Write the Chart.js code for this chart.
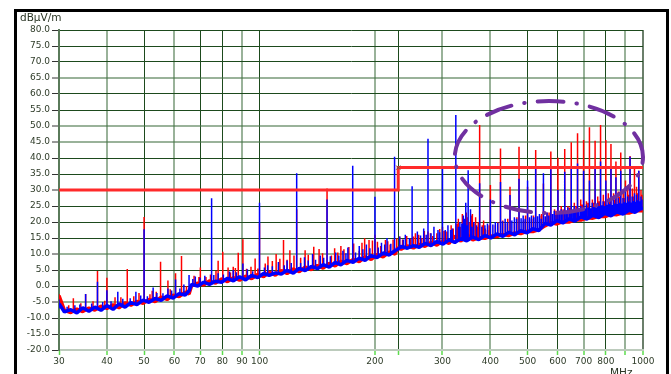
<!DOCTYPE html>
<html>
<head>
<meta charset="utf-8">
<script src="https://cdn.jsdelivr.net/npm/chart.js@4.4.0/dist/chart.umd.min.js"></script>
<style>
  html, body { margin: 0; padding: 0; background: #fff; }
  body { width: 671px; height: 374px; position: relative; overflow: hidden; font-family: "DejaVu Sans", sans-serif; }
  #c { position: absolute; left: 0; top: 0; }
  #frame { position: absolute; left: 14px; top: 9px; width: 649px; height: 420px; border: 3px solid #000; border-bottom: none; pointer-events: none; }
  .unit { position: absolute; color: #2b3626; font-size: 10.5px; }
</style>
</head>
<body>
<canvas id="c" width="671" height="374"></canvas>
<div id="frame"></div>
<div class="unit" style="left:20px; top:11px">dBµV/m</div>
<div class="unit" style="left:610px; top:366px">MHz</div>
<script>
// axis ticks
var freqTicks = [30, 40, 50, 60, 70, 80, 90, 100, 200, 230, 300, 400, 500, 600, 700, 800, 900, 1000];
var freqLabels = ['30', '40', '50', '60', '70', '80', '90', '100', '200', '', '300', '400', '500', '600', '700', '800', '', '1000'];

// limit line (MHz, dBuV/m)
var limitFreq = [30, 230, 230, 1000];
var limitLevel = [30, 30, 37, 37];

// noise floor
var floorFreq = [30, 31, 32.2, 33.4, 34.6, 35.9, 37.2, 38.6, 40, 41.5, 43, 44.6, 46.2, 47.9, 49.7, 51.5, 53.4, 55.4, 57.4,
  59.5, 61.7, 64, 65.5, 66.5, 69, 71.5, 74, 76.8, 79.6, 82.5, 85.5, 88.7, 92, 95.4, 98.9, 102.5, 106, 110, 114,
  118, 122.5, 127, 131.5, 136.5, 141.5, 146.5, 152, 157.5, 163, 169, 175.5, 182, 188.5, 195.5, 202.5, 210, 218, 226, 229,
  234, 243, 252, 261, 270, 280, 290, 301, 312, 323, 335, 347, 360, 373, 387, 401, 416, 431, 447, 463,
  480, 498, 516, 535, 555, 575, 596, 618, 641, 664, 689, 714, 740, 767, 796, 825, 855, 887, 919, 953, 988, 1000];

var blueFloor = [-5.5, -8.1, -7.4, -8.4, -6.8, -7.9, -6.6, -7.6, -6.1, -7.3, -5.6, -6.6, -5.2, -5.8, -4.4, -5.1, -3.9, -4.5, -3.1,
  -3.8, -2.4, -2.8, -1.5, 0.5, 0.0, 1.2, 0.5, 1.5, 1.2, 2.4, 1.6, 2.9, 1.9, 3.3, 2.6, 3.9, 3.3, 4.1, 3.7,
  4.9, 4.0, 5.5, 4.8, 6.1, 5.4, 6.7, 5.9, 7.4, 6.6, 8.0, 7.4, 8.7, 8.0, 9.5, 8.9, 10.3, 9.7, 11.1, 11.4,
  12.4, 11.8, 12.6, 12.1, 13.3, 12.6, 13.9, 13.1, 14.4, 13.6, 14.8, 14.1, 15.3, 14.5, 15.8, 15.0, 16.3, 15.5, 16.8, 16.0,
  17.3, 16.6, 17.9, 17.3, 19.6, 19.0, 20.4, 19.7, 21.0, 20.3, 21.6, 20.9, 22.1, 21.4, 22.7, 21.9, 23.2, 22.5, 23.7, 23.0, 24.3, 24.0];

var redFloor = [-3.0, -7.6, -8.3, -7.2, -8.0, -6.9, -7.5, -6.3, -7.0, -5.9, -6.8, -5.3, -6.0, -4.8, -5.4, -4.2, -4.9, -3.5, -4.2,
  -2.9, -3.3, -1.9, -2.5, 0.1, 0.9, 0.3, 1.6, 0.9, 2.2, 1.4, 2.6, 1.8, 3.1, 2.3, 3.6, 2.9, 4.3, 3.4, 4.8,
  3.9, 5.3, 4.5, 5.9, 5.1, 6.4, 5.6, 7.1, 6.3, 7.7, 7.0, 8.3, 7.6, 9.1, 8.3, 9.8, 9.1, 10.6, 10.0, 11.9,
  11.5, 12.5, 11.9, 13.0, 12.4, 13.6, 12.8, 14.1, 13.3, 15.6, 14.0, 16.2, 14.4, 15.1, 14.9, 15.6, 15.4, 16.1, 15.8, 16.6,
  16.4, 17.1, 17.0, 17.6, 18.8, 19.8, 19.4, 20.1, 20.0, 20.7, 20.6, 21.3, 21.2, 21.8, 21.7, 22.4, 22.3, 22.9, 22.8, 23.5, 23.6, 23.4];

// emissions: [MHz, floor, peak]
var redSpikes = [
  [30, -6, -2.5], [32.7, -7.8, -3.8], [35.2, -7.4, -2.5], [37.8, -7, 4.7], [40, -6.6, 2.6], [42, -6.4, -3.5],
  [45.2, -5.8, 5.3], [48.5, -5, -2.2], [50, -4.8, 21.6], [52.5, -4.5, -1.5], [55.2, -4.2, 7.6], [57.7, -3.7, 1.7],
  [60.4, -3.2, 4.0], [62.6, -2.6, 9.4], [67.5, 0, 3.2], [70.1, 0.6, 5.8], [72.5, 0.9, 2.8], [78, 1.4, 7.9],
  [80.2, 1.6, 10.7], [82.8, 1.9, 5.8], [85.4, 2, 6], [88, 2.3, 10.4], [90.5, 2.4, 14.6], [95, 2.7, 6],
  [97.4, 2.9, 8.6], [100, 3.1, 19.6], [105.2, 3.6, 9.2], [110.5, 3.8, 10], [115.5, 4.2, 14.4], [120, 4.4, 11.2],
  [125, 4.7, 24], [131.5, 5.1, 11.2], [138.5, 5.5, 12.3], [143, 5.8, 11.6], [150, 6.2, 30.5], [154, 6.4, 9.5],
  [160, 6.8, 10.5], [166, 7.2, 11.5], [176, 7.8, 13.3], [182, 8.1, 11], [188, 8.4, 14.9], [193, 8.8, 14.4],
  [200, 9.3, 16], [207, 9.6, 12.5], [213, 9.9, 14.4], [219, 10.2, 13], [228, 11, 14.9], [236, 11.9, 14.5],
  [242, 12.1, 15.6], [248, 12.2, 14.8], [255, 12.3, 16.5], [260, 12.5, 16], [265, 12.6, 15], [275, 12.9, 17],
  [283, 13.1, 15.6], [290, 13.3, 16.5], [300, 13.5, 18.5], [308, 13.7, 17], [316, 13.9, 19],
  [330, 14.2, 21], [334, 14.3, 18.5], [338, 14.4, 22.5], [342, 14.4, 19], [346, 14.5, 23], [352, 14.7, 20],
  [356, 14.8, 22], [362, 14.9, 19.5], [366, 15, 21.5], [370, 15, 18.5], [375, 15.1, 50.3], [381, 15.2, 19],
  [388, 15.3, 18], [393, 15.4, 17.5], [400, 15.5, 31.6], [412, 15.7, 19], [425, 16, 43], [438, 16.2, 19.5],
  [450, 16.3, 31], [462, 16.5, 20], [475, 16.8, 43.5], [488, 17, 20.5], [500, 17.2, 31], [512, 17.3, 21],
  [525, 17.6, 42.5], [538, 17.9, 22], [550, 18.9, 32], [562, 19.2, 23], [575, 19.5, 42], [588, 19.8, 24],
  [600, 20, 40.1], [612, 20.1, 25], [625, 20.3, 42.8], [637, 20.5, 25], [650, 20.6, 44.9], [662, 20.8, 26],
  [675, 21, 47.7], [688, 21.1, 27], [700, 21.3, 45.6], [712, 21.4, 26.5], [725, 21.5, 49.6], [738, 21.6, 27],
  [750, 21.7, 45.4], [762, 21.8, 28], [775, 22, 50.3], [788, 22.1, 28.5], [800, 22.2, 45.6], [812, 22.3, 29],
  [825, 22.4, 44.4], [838, 22.5, 29], [850, 22.6, 38.9], [862, 22.7, 29.5], [875, 22.9, 41.7], [888, 23, 30],
  [900, 23.1, 33], [912, 23.2, 30.5], [925, 23.3, 40.6], [938, 23.4, 30.5], [950, 23.5, 37.3], [962, 23.6, 31],
  [975, 23.7, 36], [988, 23.8, 30],
  // low-level hash along the floor
  [31.8, -8, -6], [34.2, -7.6, -5.4], [36.8, -7.2, -4.8], [39.5, -6.9, -4.6], [43.5, -6.1, -3.5], [47, -5.4, -3.2],
  [51.8, -4.7, -2.6], [53.8, -4.2, -1.8], [58.5, -3.5, -1], [64.5, -2.3, 0], [69.5, 0.5, 2.8], [74.5, 1.1, 3.6],
  [77, 1.2, 4.8], [84, 2, 4.2], [86.5, 2.2, 5.6], [92.5, 2.6, 5.4], [99, 3, 5.5], [103.5, 3.4, 7], [108, 3.6, 7.8],
  [113, 3.9, 8.5], [118, 4.3, 8.2], [123, 4.6, 9.5], [128, 5, 8.8], [134, 5.3, 9.8], [146, 6.1, 10.2], [157, 6.7, 11.8],
  [163, 7, 12.5], [171, 7.5, 12.2], [185, 8.3, 13.5], [197, 9, 14.2], [203, 9.4, 13.8], [216, 10, 14], [223, 10.5, 14.5],
  [232, 11.8, 15.5], [252, 12.2, 15.5], [269, 12.8, 17.2], [279, 13, 16.5], [295, 13.4, 17.8], [303, 13.6, 17.2],
  [320, 14, 18], [327, 14.1, 19.5], [348, 14.6, 21.5], [359, 14.8, 22.5], [372, 15, 20], [384, 15.2, 20.5],
  [397, 15.5, 19], [418, 15.8, 20], [431, 16, 20.5], [444, 16.2, 21], [469, 16.7, 21.5], [494, 17.1, 22],
  [518, 17.5, 22], [544, 18.6, 22.5], [569, 19.4, 23], [594, 19.9, 23.5], [619, 20.2, 24], [644, 20.5, 24.5],
  [669, 20.9, 25], [694, 21.2, 25.5], [719, 21.5, 26], [744, 21.7, 26], [769, 21.9, 26.5], [794, 22.1, 26.5],
  [819, 22.4, 27], [844, 22.6, 27], [869, 22.8, 28], [894, 23, 27.5], [919, 23.2, 28.5], [944, 23.4, 28],
  [969, 23.6, 29], [994, 23.9, 28.5]
];

var blueSpikes = [
  [30, -7, -4.2], [35.2, -7.5, -2.5], [37.8, -7, 1.3], [40, -6.5, -1.3], [42.7, -6.2, -1.8], [47.6, -5.4, -1.8],
  [50, -4.9, 17.7], [52.8, -4.5, -0.5], [57.7, -3.6, -0.8], [60.4, -3, 2], [65.5, -1.8, 3.4], [68, 0.2, 3],
  [75, 1, 27.4], [78, 1.2, 4], [85.4, 2, 5], [90.5, 2.3, 7], [100, 3, 26], [105, 3.4, 6.5], [112, 3.8, 7.5],
  [118, 4.3, 8], [125, 4.7, 35.2], [131, 5.1, 9], [137.5, 5.5, 10], [144, 5.8, 9.5], [150, 6.2, 27], [158, 6.7, 10.5],
  [165, 7.1, 11], [170, 7.4, 12], [175, 7.8, 37.6], [182, 8.2, 12.5], [190, 8.6, 13], [200, 9.2, 27.9],
  [208, 9.6, 13.5], [215, 10, 15], [225, 10.6, 40.4], [232, 11.8, 15.5], [240, 12, 16], [250, 12.2, 31.2],
  [258, 12.4, 17], [268, 12.7, 18], [275, 12.9, 46], [285, 13.2, 18.5], [292, 13.4, 17.5], [300, 13.6, 37],
  [310, 13.8, 19], [318, 14, 18], [325, 14.1, 53.4], [333, 14.2, 20], [340, 14.4, 22], [345, 14.5, 26],
  [350, 14.6, 36.2], [355, 14.7, 24], [362, 14.8, 20], [375, 15.1, 32.1], [387, 15.3, 19], [400, 15.5, 27],
  [412, 15.7, 20], [425, 16, 32.5], [437, 16.2, 21], [450, 16.3, 28.4], [462, 16.5, 21.5], [475, 16.8, 33.5],
  [487, 17, 22], [500, 17.2, 33], [512, 17.3, 22], [525, 17.6, 37], [537, 17.9, 22.5], [550, 18.9, 35.2],
  [562, 19.2, 23], [575, 19.5, 36.5], [587, 19.8, 23.5], [600, 20, 30], [612, 20.1, 24], [625, 20.3, 35.7],
  [637, 20.5, 24.5], [650, 20.6, 36.8], [662, 20.8, 25], [675, 21, 38.3], [688, 21.1, 25], [700, 21.3, 36],
  [712, 21.4, 25.5], [725, 21.5, 33], [737, 21.6, 26], [750, 21.7, 36.8], [762, 21.8, 26], [775, 22, 38.9],
  [787, 22.1, 26.5], [800, 22.2, 33], [812, 22.3, 27], [825, 22.4, 37], [837, 22.5, 27], [850, 22.6, 34],
  [862, 22.7, 27.5], [875, 22.9, 36], [887, 23, 27.5], [900, 23.1, 31], [912, 23.2, 28], [925, 23.3, 40.4],
  [937, 23.4, 28], [950, 23.5, 29], [962, 23.6, 28.5], [975, 23.7, 36], [988, 23.8, 28],
  // low-level hash along the floor
  [31.5, -8, -6.5], [33, -8, -6], [34, -7.8, -5.8], [36.5, -7.4, -5.5], [39, -7, -5], [41, -6.7, -4.8], [44, -6.1, -4],
  [46, -5.7, -3.8], [49, -5.1, -3], [51, -4.8, -3.2], [54, -4.2, -2.2], [56, -3.9, -2.3], [59, -3.4, -1.4],
  [62, -2.7, -0.8], [63.5, -2.4, 0.5], [67, 0, 2.2], [70, 0.5, 2.6], [72, 0.8, 3.2], [76, 1.1, 3.4], [80.5, 1.6, 3.6],
  [83.5, 1.9, 4.5], [87, 2.2, 4.3], [93, 2.5, 5.2], [96, 2.8, 4.6], [103, 3.4, 5.8], [108, 3.6, 6.2], [116, 4.1, 6.5],
  [121, 4.4, 7.2], [128, 4.9, 7.2], [134, 5.3, 8], [140, 5.7, 8.2], [147, 6.1, 8.8], [153, 6.4, 9.3], [161, 6.9, 9.5],
  [168, 7.3, 10.2], [178, 8, 10.5], [186, 8.4, 11.5], [194, 8.9, 11.8], [204, 9.5, 12], [212, 9.9, 13], [220, 10.3, 13.2],
  [237, 11.9, 14.5], [246, 12.2, 15], [263, 12.6, 15.8], [272, 12.9, 16], [280, 13.1, 16.5], [295, 13.5, 16.8],
  [305, 13.7, 17.5], [315, 13.9, 17.5], [330, 14.2, 18.5], [337, 14.3, 19.5], [342, 14.4, 21], [347, 14.5, 19],
  [358, 14.7, 18.5], [368, 14.9, 19], [380, 15.2, 18.5], [393, 15.4, 19.5], [406, 15.6, 19.2], [418, 15.8, 19.8],
  [430, 16, 20.2], [443, 16.2, 20], [455, 16.4, 20.5], [468, 16.6, 21], [481, 16.8, 21.2], [493, 17.1, 21],
  [506, 17.3, 21.5], [519, 17.5, 21.5], [531, 17.7, 21.8], [543, 18.5, 21], [556, 19.1, 21.8], [568, 19.4, 22],
  [581, 19.7, 22.5], [593, 19.9, 22.3], [606, 20.1, 22.8], [618, 20.2, 23], [631, 20.4, 23], [644, 20.6, 23.4],
  [656, 20.7, 23.3], [668, 20.9, 23.8], [681, 21, 24], [694, 21.2, 23.8], [706, 21.3, 24.2], [719, 21.5, 24.5],
  [731, 21.6, 24.3], [744, 21.7, 24.7], [756, 21.8, 24.6], [769, 21.9, 25], [781, 22, 25.2], [794, 22.2, 25],
  [806, 22.3, 25.4], [819, 22.4, 25.6], [831, 22.5, 25.3], [844, 22.6, 25.8], [856, 22.7, 25.6], [869, 22.8, 26],
  [881, 22.9, 25.8], [894, 23, 26.2], [906, 23.1, 26], [919, 23.2, 26.4], [931, 23.3, 26.1], [944, 23.4, 26.6],
  [956, 23.5, 26.3], [969, 23.6, 26.8], [981, 23.7, 26.5], [994, 23.9, 27]
];

// hand drawn ring round the high band (data units)
var ring = { fLo: 323, fHi: 1000, vLo: 22.8, vHi: 57.8 };

var DARK = '#1d4a1d';
var LIGHT = 'rgba(70,115,70,0.55)';
var yLight = [65, 50, 45, 30, 10, -5];
var xLight = [40, 60, 90, 200, 300, 400, 700, 900];

function floorPoints(levels) {
  return floorFreq.map(function(f, i) { return { x: f, y: levels[i] }; });
}

function spikePoints(list) {
  var pts = [];
  for (var s of list) {
    pts.push({ x: s[0], y: s[1] }, { x: s[0], y: s[2] }, { x: s[0], y: null });
  }
  return pts;
}

var ringPlugin = {
  id: 'ring',
  afterDatasetsDraw: function(chart) {
    var xs = chart.scales.x, ys = chart.scales.y, ctx = chart.ctx;
    var x1 = xs.getPixelForValue(ring.fLo), x2 = xs.getPixelForValue(ring.fHi);
    var y1 = ys.getPixelForValue(ring.vHi), y2 = ys.getPixelForValue(ring.vLo);
    ctx.save();
    ctx.strokeStyle = '#7030a0';
    ctx.lineWidth = 4;
    ctx.lineCap = 'round';
    ctx.setLineDash([26, 13, 0.5, 13]);
    ctx.lineDashOffset = 20;
    ctx.beginPath();
    ctx.ellipse((x1 + x2) / 2, (y1 + y2) / 2, (x2 - x1) / 2, (y2 - y1) / 2, 0, 0, Math.PI * 2);
    ctx.stroke();
    ctx.restore();
  }
};

var tickFont = { family: '"DejaVu Sans", sans-serif', size: 9 };

new Chart(document.getElementById('c'), {
  type: 'line',
  data: {
    datasets: [
      {
        data: limitFreq.map(function(f, i) { return { x: f, y: limitLevel[i] }; }),
        borderColor: '#ff2a2a', borderWidth: 3, order: 0,
        pointRadius: function(c) { return c.dataIndex === 2 ? 3 : 0; },
        pointStyle: 'crossRot', pointBorderColor: '#6b5a3a', pointBorderWidth: 1
      },
      { data: floorPoints(blueFloor), borderColor: '#0000ff', borderWidth: 3.5, borderJoinStyle: 'bevel', order: 1 },
      { data: spikePoints(blueSpikes), borderColor: '#0000ff', borderWidth: 1.5, order: 2 },
      { data: floorPoints(redFloor), borderColor: '#ff0000', borderWidth: 3.5, borderJoinStyle: 'bevel', order: 3 },
      { data: spikePoints(redSpikes), borderColor: '#ff0000', borderWidth: 1.5, order: 4 }
    ]
  },
  options: {
    responsive: false,
    animation: false,
    devicePixelRatio: 1,
    layout: { padding: { top: 30, right: 28, left: 0, bottom: 0 } },
    elements: { point: { radius: 0 }, line: { tension: 0, fill: false } },
    spanGaps: false,
    plugins: { legend: { display: false }, tooltip: { enabled: false } },
    scales: {
      x: {
        type: 'logarithmic',
        min: 30, max: 1000,
        afterBuildTicks: function(axis) {
          axis.ticks = freqTicks.map(function(v) { return { value: v }; });
        },
        afterFit: function(axis) { axis.height = 24; },
        ticks: {
          autoSkip: false, maxRotation: 0, minRotation: 0, padding: 1,
          color: '#2e3b28', font: tickFont,
          callback: function(v, i) { return freqLabels[i]; }
        },
        grid: {
          color: function(c) { return xLight.indexOf(c.tick && c.tick.value) >= 0 ? LIGHT : (c.tick && c.tick.value === 1000 ? '#6b7f6b' : DARK); },
          lineWidth: function(c) { var v = c.tick && c.tick.value; return (xLight.indexOf(v) >= 0 || v === 1000) ? 2 : 1; },
          tickColor: '#5cdc4c', tickLength: 5, tickWidth: 1.5
        },
        border: { color: '#bccbbc', width: 2 }
      },
      y: {
        min: -20, max: 80,
        afterFit: function(axis) { axis.width = 59; },
        ticks: {
          stepSize: 5, padding: 2, color: '#2e3b28', font: tickFont,
          callback: function(v) { return v.toFixed(1); }
        },
        grid: {
          color: function(c) { return yLight.indexOf(c.tick && c.tick.value) >= 0 ? LIGHT : DARK; },
          lineWidth: function(c) { return yLight.indexOf(c.tick && c.tick.value) >= 0 ? 2 : 1; },
          tickColor: '#333', tickLength: 7, tickWidth: 1
        },
        border: { color: '#5a7a5a', width: 2 }
      }
    }
  },
  plugins: [ringPlugin]
});
</script>
</body>
</html>
